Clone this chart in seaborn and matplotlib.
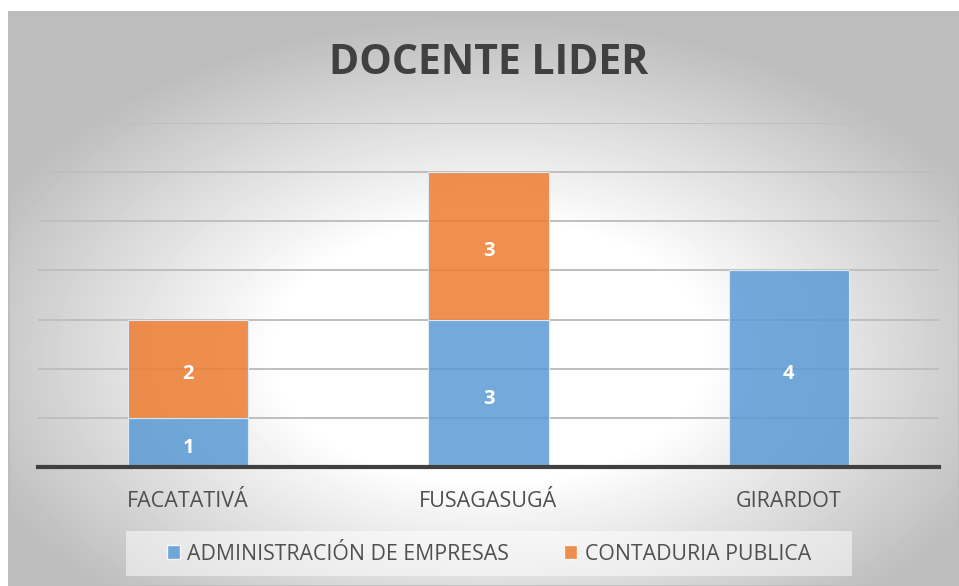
import numpy as np
import pandas as pd
import seaborn as sns
import matplotlib.pyplot as plt
from matplotlib.patches import Rectangle, Patch

# datos
sedes = ["FACATATIVÁ", "FUSAGASUGÁ", "GIRARDOT"]
programas = ["ADMINISTRACIÓN DE EMPRESAS", "CONTADURIA PUBLICA"]
administracion = [1, 3, 4]
contaduria = [2, 3, 0]
colores = ["#5B9BD5", "#ED7D31"]

df = pd.DataFrame({
    "sede": sedes * 2,
    "programa": [programas[0]] * 3 + [programas[1]] * 3,
    "n": administracion + contaduria,
})

sns.set_theme(style="white")
plt.rcParams["font.family"] = ["Open Sans", "DejaVu Sans"]

W, H = 959, 586
fig = plt.figure(figsize=(W / 100, H / 100), dpi=100)
fig.patch.set_facecolor("white")

# fondo con degradado radial (estilo Excel)
bg = fig.add_axes([8 / W, 0, (W - 8) / W, (H - 11) / H])
bw, bh = W - 8, H - 11
yy, xx = np.mgrid[0:bh, 0:bw]
cx, cy = 482, 340
rr = np.hypot((xx - cx) / (bw / 2), (yy - cy) / (bh / 2))
v = 1 - 0.2 * np.clip((rr - 0.45) / 0.55, 0, 1.3)
bg.imshow(v, cmap="gray", vmin=0, vmax=1, aspect="auto")
bg.set_axis_off()
bg.add_patch(Rectangle((0, 0), 1, 1, transform=bg.transAxes, fill=False,
                       edgecolor="#bdbdbd", linewidth=2))

# grafico principal
ax = fig.add_axes([38 / W, 1 - 467 / H, (939 - 38) / W, (467 - 123) / H])
ax.patch.set_alpha(0)

sns.histplot(data=df, x="sede", hue="programa", weights="n", multiple="stack",
             discrete=True, shrink=0.4, hue_order=programas[::-1],
             palette=colores[::-1], alpha=0.85, edgecolor="#dbe8f5",
             linewidth=0.8, legend=False, ax=ax)

ax.set_ylim(0, 7)
ax.set_xlim(-0.5, 2.5)
ax.set_yticks(range(0, 8))
ax.set_yticklabels([])
ax.yaxis.grid(True, color="#bfbfbf", linewidth=1.4)
ax.set_axisbelow(True)
ax.set_xlabel("")
ax.set_ylabel("")
for s in ["top", "right", "left"]:
    ax.spines[s].set_visible(False)
ax.spines["bottom"].set_color("#404040")
ax.spines["bottom"].set_linewidth(3)
ax.tick_params(axis="x", length=0, pad=17, labelsize=15.5, labelcolor="#505050")
ax.tick_params(axis="y", length=0)

# etiquetas de datos
base = np.zeros(len(sedes))
for valores in [administracion, contaduria]:
    for i, val in enumerate(valores):
        if val:
            ax.annotate(str(val), (i, base[i] + val / 2), xytext=(0, -4),
                        textcoords="offset points", ha="center", va="center",
                        color="white", fontsize=14.5, fontweight="bold")
    base += np.array(valores)

fig.text(489 / W, 1 - 64 / H, "DOCENTE LIDER", ha="center", va="center",
         fontsize=29.5, fontweight="bold", color="#404040")

# leyenda
fig.patches.append(Rectangle((126 / W, 1 - 576 / H), 726 / W, 45 / H,
                             transform=fig.transFigure, facecolor="white",
                             alpha=0.5, edgecolor="none", zorder=1))
handles = [Patch(facecolor=c, alpha=0.85) for c in colores]
fig.legend(handles, programas, loc="center", bbox_to_anchor=(489 / W, 1 - 554 / H),
           ncol=2, frameon=False, fontsize=15.3, handlelength=0.6, handleheight=0.6,
           handletextpad=0.35, columnspacing=2.6, labelcolor="#505050")

fig.savefig("out.png", dpi=100)
